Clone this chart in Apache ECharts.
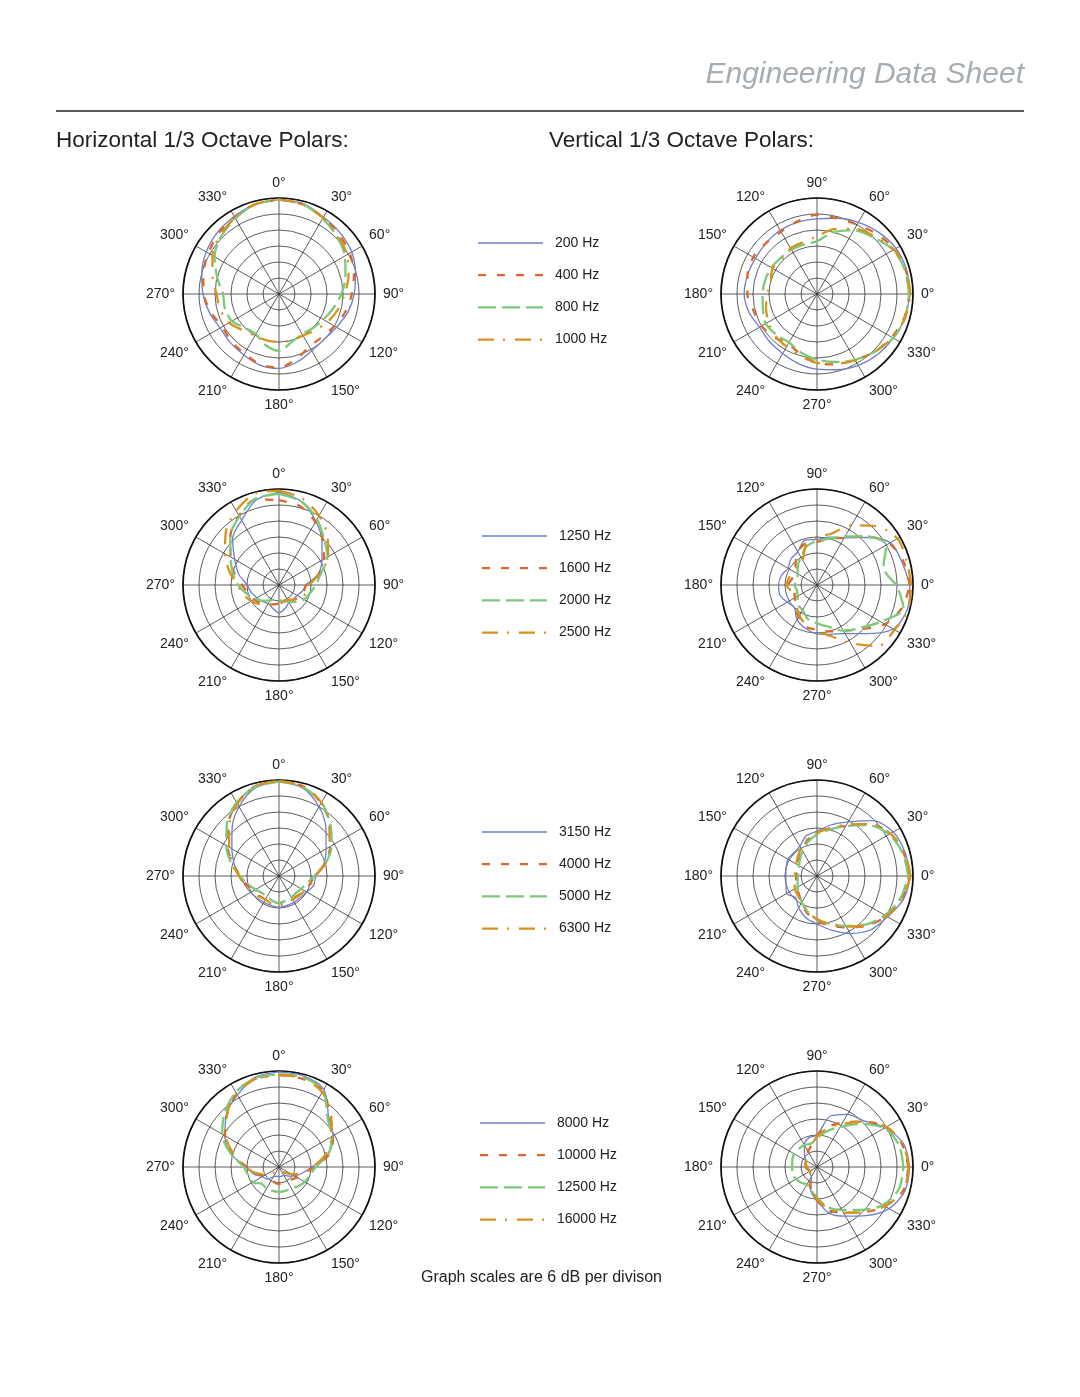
<!DOCTYPE html>
<html>
<head>
<meta charset="utf-8">
<script src="https://cdn.jsdelivr.net/npm/echarts@6/dist/echarts.min.js"></script>
<style>
html,body{margin:0;padding:0;background:#fff;}
#chart{width:1080px;height:1397px;}
</style>
</head>
<body>
<div id="chart"></div>
<script>
// Angles (degrees) at which levels were read
const ANGLES = [0,15,30,45,60,75,90,105,120,135,150,165,180,195,210,225,240,255,270,285,300,315,330,345];
const RADIUS_TICKS = [-36,-30,-24,-18,-12,-6,0]; // 6 dB per division
const ANGLE_TICKS = [0,30,60,90,120,150,180,210,240,270,300,330];

// Frequency groups
const GROUP1 = ['200 Hz','400 Hz','800 Hz','1000 Hz'];
const GROUP2 = ['1250 Hz','1600 Hz','2000 Hz','2500 Hz'];
const GROUP3 = ['3150 Hz','4000 Hz','5000 Hz','6300 Hz'];
const GROUP4 = ['8000 Hz','10000 Hz','12500 Hz','16000 Hz'];

// Horizontal polars, dB relative (0 = outer ring)
const H200  = [-0.6,-0.9,-2.7,-3.6,-4.5,-6.3,-7.8,-9.3,-11.1,-12,-11.4,-9.6,-8.1,-8.4,-9.6,-10.2,-10.5,-9,-7.5,-6,-4.5,-3.3,-2.4,-1.2];
const H400  = [-0.6,-1.2,-3,-4.2,-5.4,-6.9,-8.7,-10.2,-12,-13.2,-13.2,-10.8,-8.4,-8.7,-10.2,-10.8,-11.4,-9.6,-7.8,-6.6,-5.4,-3.9,-2.7,-1.2];
const H800  = [-0.6,-1.2,-3.3,-5.4,-7.5,-10.2,-12.6,-15,-16.8,-18,-18.6,-17.4,-14.7,-16.2,-18.6,-18,-15.6,-15,-15,-12,-8.1,-5.4,-3.3,-1.2];
const H1000 = [-0.6,-1.2,-3,-4.8,-6.6,-9,-11.4,-13.2,-15,-16.8,-18,-18,-18,-18,-18,-16.8,-14.4,-13.2,-12.6,-10.2,-7.2,-4.8,-3,-1.2];

const H1250 = [-1.2,-3.6,-8.4,-13.2,-17.4,-21,-25.8,-27,-28.2,-28.5,-28.5,-27,-25.5,-27,-27.9,-27.3,-26.4,-25.2,-24,-20.4,-16.8,-11.4,-8,-3];
const H1600 = [-4.2,-5.4,-8.7,-12.6,-16.5,-20.4,-25.8,-26.4,-27,-28.2,-28.8,-29.1,-29.1,-28.5,-27.6,-26.4,-25.2,-24,-22.2,-18.6,-15,-10.2,-6,-2.7];
const H2000 = [-1.8,-3.6,-7.5,-12,-15,-19.8,-22.2,-24,-25.2,-27,-28.8,-29.7,-30.3,-30,-29.4,-27.6,-25.8,-23.4,-20.7,-18,-15,-10.2,-6.3,-2.4];
const H2500 = [-0.6,-2.4,-6,-10.2,-14.7,-20.4,-24.6,-25.5,-26.1,-28.2,-29.7,-29.4,-29.1,-28.5,-27.6,-25.8,-24,-22.2,-20.4,-16.8,-12.6,-7.8,-3.9,-0.6];

const H3150 = [-0.6,-1.8,-6,-11.1,-15.6,-18.6,-22.2,-22.5,-24,-24.6,-24.6,-24.6,-24.3,-24.6,-24.6,-24.3,-23.7,-22.8,-21.3,-18.6,-15.6,-11.1,-6,-1.8];
const H4000 = [-0.3,-1.2,-4.5,-9,-13.8,-18,-22.8,-24,-25.2,-25.8,-26.1,-26.4,-25.8,-26.1,-25.8,-25.5,-24.9,-23.4,-21.6,-18,-13.8,-9,-4.5,-1.2];
const H5000 = [-0.6,-1.5,-4.2,-8.7,-13.2,-18,-22.8,-25.2,-26.4,-27,-26.7,-26.4,-25.8,-26.4,-27,-27,-25.8,-24,-21.3,-17.4,-13.2,-8.4,-4.2,-1.5];
const H6300 = [-0.3,-1.2,-4.2,-9.3,-14.1,-18,-22.2,-23.7,-24.9,-25.5,-25.8,-25.5,-24.9,-25.2,-25.8,-25.2,-24.3,-22.8,-21,-18,-14.4,-9.6,-4.8,-1.2];

const H8000  = [-0.3,-0.6,-2.4,-9.6,-12.6,-16.8,-23.7,-27,-29.4,-31.2,-32.4,-32.4,-32.4,-32.4,-31.8,-29.6,-28.8,-26.1,-23.7,-17.4,-12.6,-8.1,-4.8,-1.2];
const H10000 = [-1.5,-1.8,-3,-9,-12.6,-16.2,-22.8,-26.4,-28.2,-29.4,-30,-29.7,-29.7,-30,-30.6,-30.6,-29.4,-27,-24,-18,-12.6,-8.4,-4.2,-1.8];
const H12500 = [-1.2,-1.2,-3,-10.2,-13.2,-16.8,-22.2,-24,-24.9,-25.8,-26.7,-26.7,-26.7,-26.7,-26.7,-27,-24.6,-24,-22.8,-17.4,-11.4,-7.2,-3.6,-1.5];
const H16000 = [-1.5,-1.5,-3.6,-8.4,-13.2,-18,-23.4,-27,-30.6,-33,-34.2,-34.8,-34.8,-34.8,-34.2,-33,-30.6,-27,-23.4,-18.6,-13.2,-8.4,-4.2,-1.8];

// Vertical polars
const V200  = [-1.2,-1.2,-1.8,-3.3,-5,-6.6,-7.8,-8.1,-8.4,-9,-9.3,-9,-8.7,-9.6,-11.1,-10.8,-10.2,-9,-7.8,-6.6,-5.1,-3.9,-3,-1.8];
const V400  = [-1.2,-1.5,-2.4,-4.2,-6,-6.6,-6.3,-7.8,-9,-9,-8.4,-9,-9.9,-11.4,-12,-13.2,-14.4,-12.6,-10.2,-8.7,-7.5,-5.4,-3.6,-2.1];
const V800  = [-1.5,-1.8,-3,-6,-8.4,-12,-16.2,-16.8,-16.8,-16.8,-16.2,-15.9,-15.6,-15,-13.8,-14.4,-15,-13.2,-11.4,-9.6,-7.5,-5.4,-3,-1.8];
const V1000 = [-0.9,-1.5,-2.7,-5.4,-7.8,-10.8,-14.4,-15.9,-16.2,-17.4,-16.8,-18,-17.4,-16.2,-15,-13.8,-13.2,-12,-10.2,-9,-7.2,-5.4,-3.3,-1.8];

const V1250 = [-1.2,-3,-4.2,-10.8,-15.6,-17.4,-18.9,-18.6,-21.6,-22.2,-23.4,-22.2,-21.6,-21.6,-23.1,-24,-21,-19.2,-17.7,-16.8,-15,-10.2,-3,-0.9];
const V1600 = [-1.2,-2.4,-4.8,-10.2,-15.6,-18,-19.8,-19.8,-21.6,-24.6,-26.4,-26.4,-25.2,-27,-26.4,-24.6,-22.2,-19.8,-19.2,-18,-16.2,-12.6,-6.6,-3];
const V2000 = [-6,-10.2,-6,-10.2,-15,-18,-19.5,-21,-24,-25.8,-27.6,-28.2,-27.6,-28.2,-27.6,-25.8,-25.2,-22.8,-21.6,-19.8,-16.2,-13.2,-8.4,-2.4];
const V2500 = [-0.6,-1.2,-1.2,-4.8,-10.2,-16.2,-18,-20.4,-25.2,-25.8,-25.8,-25.2,-24.6,-26.4,-27.6,-25.2,-22.8,-20.4,-18.6,-16.2,-10.8,-3.6,-2.4,-0.6];

const V3150 = [-0.9,-1.8,-3,-6.6,-12.6,-16.2,-19.2,-20.4,-23.1,-23.7,-23.4,-24,-24.3,-24,-22.8,-24.6,-22.2,-19.8,-18,-15,-11.1,-7.5,-5.4,-2.4];
const V4000 = [-1.2,-2.4,-4.2,-8.4,-14.4,-17.4,-19.8,-22.2,-24.6,-26.4,-27.6,-28.2,-28.2,-27.9,-27,-26.4,-24.6,-21.6,-19.2,-16.8,-13.8,-9.6,-6,-3];
const V5000 = [-1.8,-2.7,-4.8,-9,-14.4,-18,-20.4,-22.8,-25.2,-27,-28.2,-28.8,-28.8,-28.5,-27.6,-26.4,-24.6,-22.2,-19.8,-17.4,-14.4,-10.2,-6.6,-3.6];
const V6300 = [-0.9,-2.1,-4.2,-8.4,-13.8,-17.4,-19.8,-21.6,-24,-25.8,-27,-27.6,-27.6,-27.3,-26.4,-25.8,-24.6,-22.2,-19.8,-17.4,-14.1,-9.9,-6,-3];

const V8000  = [-1.2,-2.4,-6.6,-11.4,-13.2,-16.2,-24,-24.6,-26.4,-29.4,-31.2,-31.8,-31.8,-32.4,-33,-32.4,-31.8,-27,-23.4,-18,-14.7,-10.2,-4.8,-1.8];
const V10000 = [-1.8,-3,-6,-12,-16.8,-20.4,-24,-27.6,-29.4,-30.6,-31.2,-31.5,-31.8,-32.4,-33,-32.4,-30.6,-27,-23.4,-19.2,-16.2,-12,-6.6,-2.4];
const V12500 = [-3.6,-4.2,-6.9,-13.2,-18.6,-22.2,-25.2,-27,-26.4,-26.4,-26.1,-26.4,-26.7,-26.4,-27,-27.6,-28.5,-27,-24.6,-20.4,-17.4,-13.2,-7.5,-4.2];
const V16000 = [-1.5,-2.7,-6,-12,-17.4,-21,-24.6,-27.6,-28.8,-30,-31.2,-31.5,-32.4,-32.7,-33,-32.4,-30.9,-27.6,-24,-19.8,-16.2,-12,-6.6,-2.4];

// ---------- layout & style ----------
const FONT = '"Liberation Sans", Arial, Helvetica, sans-serif';
const STYLES = [
  {color:'#6e7ecb', type:'solid', width:1.3},
  {color:'#d9682a', type:[8,11], width:2.3},
  {color:'#7cc97a', type:[18,6], width:2.3},
  {color:'#d4941f', type:[16,9,2,10], width:2.3}
];
const HX = 279, VX = 817, ROWS = [294, 585, 876, 1167], R = 96;
const plots = [
  {x:HX, y:ROWS[0], h:true,  names:GROUP1, d:[H200,H400,H800,H1000]},
  {x:VX, y:ROWS[0], h:false, names:GROUP1, d:[V200,V400,V800,V1000]},
  {x:HX, y:ROWS[1], h:true,  names:GROUP2, d:[H1250,H1600,H2000,H2500]},
  {x:VX, y:ROWS[1], h:false, names:GROUP2, d:[V1250,V1600,V2000,V2500]},
  {x:HX, y:ROWS[2], h:true,  names:GROUP3, d:[H3150,H4000,H5000,H6300]},
  {x:VX, y:ROWS[2], h:false, names:GROUP3, d:[V3150,V4000,V5000,V6300]},
  {x:HX, y:ROWS[3], h:true,  names:GROUP4, d:[H8000,H10000,H12500,H16000]},
  {x:VX, y:ROWS[3], h:false, names:GROUP4, d:[V8000,V10000,V12500,V16000]}
];
const legends = [
  {left:478, top:243, names:GROUP1},
  {left:482, top:536, names:GROUP2},
  {left:482, top:832, names:GROUP3},
  {left:480, top:1123, names:GROUP4}
];

const polar = [], angleAxis = [], radiusAxis = [], series = [];
plots.forEach((p, i) => {
  polar.push({center:[p.x, p.y], radius:R});
  angleAxis.push({
    polarIndex:i, type:'value', min:0, max:360, interval:30,
    startAngle: p.h ? 90 : 0, clockwise: p.h,
    axisLine:{lineStyle:{color:'#111', width:1.7}},
    axisTick:{show:false},
    splitLine:{show:true, lineStyle:{color:'#333', width:0.8}},
    axisLabel:{formatter:'{value}°', fontSize:14, color:'#222', fontFamily:FONT, margin:8}
  });
  radiusAxis.push({
    polarIndex:i, type:'value', min:RADIUS_TICKS[0], max:RADIUS_TICKS[RADIUS_TICKS.length-1], interval:6,
    axisLine:{show:false}, axisTick:{show:false}, axisLabel:{show:false},
    splitLine:{show:true, lineStyle:{color:'#333', width:0.8}}
  });
  p.d.forEach((arr, k) => {
    const data = arr.map((v, j) => [v, ANGLES[j]]);
    data.push([arr[0], 360]);
    const st = STYLES[k];
    series.push({
      name:p.names[k], type:'line', coordinateSystem:'polar', polarIndex:i,
      data:data, symbol:'none', showSymbol:false, smooth:0.3, z:3+k,
      itemStyle:{color:st.color},
      lineStyle:{color:st.color, type:st.type, width:st.width, cap:'butt'},
      silent:true
    });
  });
});

// Legend keys drawn as graphic samples + labels
const graphic = [
  {type:'text', x:1024, y:75, style:{text:'Engineering Data Sheet', fill:'#a6adb2', font:'italic 30px '+FONT, textAlign:'right', textVerticalAlign:'middle'}},
  {type:'line', shape:{x1:56, y1:111, x2:1024, y2:111}, style:{stroke:'#222', lineWidth:1.5}},
  {type:'text', x:56, y:141, style:{text:'Horizontal 1/3 Octave Polars:', fill:'#222', font:'22.5px '+FONT, textAlign:'left', textVerticalAlign:'middle'}},
  {type:'text', x:549, y:141, style:{text:'Vertical 1/3 Octave Polars:', fill:'#222', font:'22.5px '+FONT, textAlign:'left', textVerticalAlign:'middle'}},
  {type:'text', x:421, y:1278, style:{text:'Graph scales are 6 dB per divison', fill:'#222', font:'16px '+FONT, textAlign:'left', textVerticalAlign:'middle'}}
];
legends.forEach(l => {
  l.names.forEach((n, k) => {
    const y = l.top + k * 32.2;
    const st = STYLES[k];
    graphic.push({type:'line', shape:{x1:l.left, y1:y, x2:l.left + 65, y2:y},
      style:{stroke:st.color, lineWidth:st.type === 'solid' ? 1.3 : 2.3, lineDash: st.type === 'solid' ? null : st.type, lineCap:'butt'}});
    graphic.push({type:'text', x:l.left + 77, y:y, style:{text:n, fill:'#222', font:'14px '+FONT, textAlign:'left', textVerticalAlign:'middle'}});
  });
});

const chart = echarts.init(document.getElementById('chart'), null, {renderer:'canvas'});
chart.setOption({
  backgroundColor:'#fff',
  animation:false,
  polar, angleAxis, radiusAxis, series,
  graphic
});
</script>
</body>
</html>
